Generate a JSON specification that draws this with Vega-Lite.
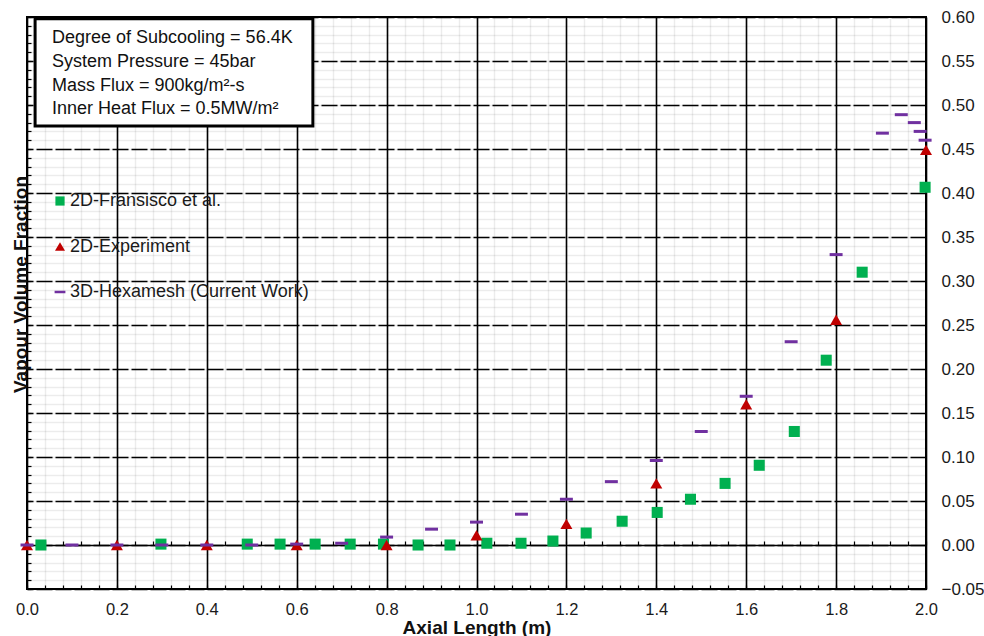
{
  "$schema": "https://vega.github.io/schema/vega-lite/v6.json",
  "width": 899,
  "height": 572,
  "autosize": {"type": "none"},
  "padding": {"left": 27, "top": 17, "right": 58, "bottom": 47},
  "background": "white",
  "config": {
    "view": {"stroke": "#000000", "strokeWidth": 2},
    "font": "Liberation Sans",
    "axis": {"labelFont": "Liberation Sans", "titleFont": "Liberation Sans", "labelColor": "#1a1a1a", "titleColor": "#111111", "labelFlush": false, "labelOverlap": false}
  },
  "resolve": {"axis": {"x": "independent", "y": "independent"}},
  "layer": [
    {
      "description": "Parameter box; also carries the light minor grid and the inward minor ticks",
      "data": {"values": [{"bx0": 0.018, "bx1": 0.636, "by0": 0.598, "by1": 0.476}]},
      "mark": {"type": "rect", "fill": "white", "stroke": "#000000", "strokeWidth": 3},
      "encoding": {
        "x": {
          "field": "bx0", "type": "quantitative",
          "scale": {"domain": [0, 2], "nice": false, "zero": false},
          "axis": {
            "orient": "bottom",
            "values": [0,0.04,0.08,0.12,0.16,0.2,0.24,0.28,0.32,0.36,0.4,0.44,0.48,0.52,0.56,0.6,0.64,0.68,0.72,0.76,0.8,0.84,0.88,0.92,0.96,1,1.04,1.08,1.12,1.16,1.2,1.24,1.28,1.32,1.36,1.4,1.44,1.48,1.52,1.56,1.6,1.64,1.68,1.72,1.76,1.8,1.84,1.88,1.92,1.96,2],
            "grid": true, "gridColor": "#000000", "gridOpacity": 0.075, "gridWidth": 1.5, "gridDash": [],
            "labels": false, "domain": false,
            "ticks": true, "tickSize": -4, "tickColor": "#000000", "tickWidth": 1.2,
            "title": null
          }
        },
        "x2": {"field": "bx1"},
        "y": {
          "field": "by0", "type": "quantitative",
          "scale": {"domain": [-0.05, 0.6], "nice": false, "zero": false},
          "axis": {
            "orient": "left",
            "values": [-0.05,-0.04,-0.03,-0.02,-0.01,0,0.01,0.02,0.03,0.04,0.05,0.06,0.07,0.08,0.09,0.1,0.11,0.12,0.13,0.14,0.15,0.16,0.17,0.18,0.19,0.2,0.21,0.22,0.23,0.24,0.25,0.26,0.27,0.28,0.29,0.3,0.31,0.32,0.33,0.34,0.35,0.36,0.37,0.38,0.39,0.4,0.41,0.42,0.43,0.44,0.45,0.46,0.47,0.48,0.49,0.5,0.51,0.52,0.53,0.54,0.55,0.56,0.57,0.58,0.59,0.6],
            "grid": true, "gridColor": "#000000", "gridOpacity": 0.075, "gridWidth": 1.5, "gridDash": [],
            "labels": false, "domain": false,
            "ticks": true, "tickSize": -4, "tickColor": "#000000", "tickWidth": 1.2,
            "title": "Vapour Volume Fraction",
            "titleFontSize": 19, "titleFontWeight": "bold",
            "titleAngle": -90, "titleX": -1, "titleY": 267,
            "titleAlign": "center", "titleBaseline": "alphabetic"
          }
        },
        "y2": {"field": "by1"}
      }
    },
    {
      "description": "Operating conditions text; also carries the zero line and the major dashed grid with right-hand labels",
      "data": {"values": [
        {"tx": 0.0556, "ty": 0.5701, "line": "Degree of Subcooling = 56.4K"},
        {"tx": 0.0556, "ty": 0.5435, "line": "System Pressure = 45bar"},
        {"tx": 0.0556, "ty": 0.5163, "line": "Mass Flux = 900kg/m²-s"},
        {"tx": 0.0556, "ty": 0.4894, "line": "Inner Heat Flux = 0.5MW/m²"}
      ]},
      "mark": {"type": "text", "align": "left", "baseline": "alphabetic", "fontSize": 18, "font": "Liberation Sans", "color": "#111111"},
      "encoding": {
        "x": {
          "field": "tx", "type": "quantitative",
          "scale": {"domain": [0, 2], "nice": false, "zero": false},
          "axis": {
            "orient": "bottom", "offset": -44,
            "values": [0,0.04,0.08,0.12,0.16,0.2,0.24,0.28,0.32,0.36,0.4,0.44,0.48,0.52,0.56,0.6,0.64,0.68,0.72,0.76,0.8,0.84,0.88,0.92,0.96,1,1.04,1.08,1.12,1.16,1.2,1.24,1.28,1.32,1.36,1.4,1.44,1.48,1.52,1.56,1.6,1.64,1.68,1.72,1.76,1.8,1.84,1.88,1.92,1.96,2],
            "grid": false, "labels": false,
            "domain": true, "domainColor": "#000000", "domainWidth": 1.6, "domainDash": [],
            "ticks": true, "tickSize": -4, "tickColor": "#000000", "tickWidth": 1.2,
            "title": null
          }
        },
        "y": {
          "field": "ty", "type": "quantitative",
          "scale": {"domain": [-0.05, 0.6], "nice": false, "zero": false},
          "axis": {
            "orient": "right",
            "values": [-0.05,0,0.05,0.1,0.15,0.2,0.25,0.3,0.35,0.4,0.45,0.5,0.55,0.6],
            "format": ".2f",
            "grid": true, "gridColor": "#000000", "gridWidth": 1.6, "gridDash": [16, 3],
            "domain": false, "ticks": false,
            "labelFontSize": 17, "labelPadding": 15, "labelBaseline": "middle",
            "title": null
          }
        },
        "text": {"field": "line"}
      }
    },
    {
      "description": "Vapour volume fraction along the channel for the three data sets",
      "data": {"values": [
        {"series": "2D-Fransisco et al.", "x": 0.031, "y": 0.000},
        {"series": "2D-Fransisco et al.", "x": 0.298, "y": 0.001},
        {"series": "2D-Fransisco et al.", "x": 0.490, "y": 0.001},
        {"series": "2D-Fransisco et al.", "x": 0.563, "y": 0.001},
        {"series": "2D-Fransisco et al.", "x": 0.641, "y": 0.001},
        {"series": "2D-Fransisco et al.", "x": 0.719, "y": 0.001},
        {"series": "2D-Fransisco et al.", "x": 0.793, "y": 0.001},
        {"series": "2D-Fransisco et al.", "x": 0.870, "y": 0.000},
        {"series": "2D-Fransisco et al.", "x": 0.941, "y": 0.000},
        {"series": "2D-Fransisco et al.", "x": 1.023, "y": 0.002},
        {"series": "2D-Fransisco et al.", "x": 1.099, "y": 0.002},
        {"series": "2D-Fransisco et al.", "x": 1.170, "y": 0.0045},
        {"series": "2D-Fransisco et al.", "x": 1.244, "y": 0.0136},
        {"series": "2D-Fransisco et al.", "x": 1.324, "y": 0.027},
        {"series": "2D-Fransisco et al.", "x": 1.402, "y": 0.037},
        {"series": "2D-Fransisco et al.", "x": 1.476, "y": 0.052},
        {"series": "2D-Fransisco et al.", "x": 1.553, "y": 0.070},
        {"series": "2D-Fransisco et al.", "x": 1.629, "y": 0.0906},
        {"series": "2D-Fransisco et al.", "x": 1.707, "y": 0.129},
        {"series": "2D-Fransisco et al.", "x": 1.778, "y": 0.210},
        {"series": "2D-Fransisco et al.", "x": 1.858, "y": 0.310},
        {"series": "2D-Fransisco et al.", "x": 1.998, "y": 0.4065},
        {"series": "2D-Experiment", "x": 0.0, "y": 0.0},
        {"series": "2D-Experiment", "x": 0.2, "y": 0.0},
        {"series": "2D-Experiment", "x": 0.4, "y": 0.0},
        {"series": "2D-Experiment", "x": 0.6, "y": 0.0},
        {"series": "2D-Experiment", "x": 0.8, "y": 0.0},
        {"series": "2D-Experiment", "x": 1.0, "y": 0.011},
        {"series": "2D-Experiment", "x": 1.2, "y": 0.024},
        {"series": "2D-Experiment", "x": 1.4, "y": 0.070},
        {"series": "2D-Experiment", "x": 1.6, "y": 0.160},
        {"series": "2D-Experiment", "x": 1.8, "y": 0.256},
        {"series": "2D-Experiment", "x": 2.0, "y": 0.449},
        {"series": "3D-Hexamesh (Current Work)", "x": 0.0, "y": 0.0},
        {"series": "3D-Hexamesh (Current Work)", "x": 0.1, "y": 0.0},
        {"series": "3D-Hexamesh (Current Work)", "x": 0.2, "y": 0.0},
        {"series": "3D-Hexamesh (Current Work)", "x": 0.3, "y": 0.0},
        {"series": "3D-Hexamesh (Current Work)", "x": 0.4, "y": 0.0},
        {"series": "3D-Hexamesh (Current Work)", "x": 0.5, "y": 0.0},
        {"series": "3D-Hexamesh (Current Work)", "x": 0.6, "y": 0.001},
        {"series": "3D-Hexamesh (Current Work)", "x": 0.7, "y": 0.002},
        {"series": "3D-Hexamesh (Current Work)", "x": 0.8, "y": 0.009},
        {"series": "3D-Hexamesh (Current Work)", "x": 0.9, "y": 0.018},
        {"series": "3D-Hexamesh (Current Work)", "x": 1.0, "y": 0.026},
        {"series": "3D-Hexamesh (Current Work)", "x": 1.1, "y": 0.035},
        {"series": "3D-Hexamesh (Current Work)", "x": 1.2, "y": 0.052},
        {"series": "3D-Hexamesh (Current Work)", "x": 1.3, "y": 0.072},
        {"series": "3D-Hexamesh (Current Work)", "x": 1.4, "y": 0.096},
        {"series": "3D-Hexamesh (Current Work)", "x": 1.5, "y": 0.129},
        {"series": "3D-Hexamesh (Current Work)", "x": 1.6, "y": 0.169},
        {"series": "3D-Hexamesh (Current Work)", "x": 1.7, "y": 0.231},
        {"series": "3D-Hexamesh (Current Work)", "x": 1.8, "y": 0.330},
        {"series": "3D-Hexamesh (Current Work)", "x": 1.903, "y": 0.468},
        {"series": "3D-Hexamesh (Current Work)", "x": 1.945, "y": 0.489},
        {"series": "3D-Hexamesh (Current Work)", "x": 1.974, "y": 0.480},
        {"series": "3D-Hexamesh (Current Work)", "x": 1.987, "y": 0.470},
        {"series": "3D-Hexamesh (Current Work)", "x": 1.998, "y": 0.460}
      ]},
      "mark": {"type": "point", "filled": true, "opacity": 1, "size": 144, "strokeWidth": 0},
      "encoding": {
        "x": {
          "field": "x", "type": "quantitative",
          "scale": {"domain": [0, 2], "nice": false, "zero": false},
          "axis": {
            "orient": "bottom",
            "values": [0,0.2,0.4,0.6,0.8,1,1.2,1.4,1.6,1.8,2],
            "format": ".1f",
            "grid": true, "gridColor": "#000000", "gridWidth": 1.6, "gridDash": [],
            "domain": false, "ticks": false,
            "labelFontSize": 16.5, "labelPadding": 12,
            "title": "Axial Length (m)",
            "titleFontSize": 19, "titleFontWeight": "bold",
            "titleY": 44, "titleBaseline": "alphabetic"
          }
        },
        "y": {
          "field": "y", "type": "quantitative",
          "scale": {"domain": [-0.05, 0.6], "nice": false, "zero": false},
          "axis": null
        },
        "color": {
          "field": "series", "type": "nominal",
          "scale": {
            "domain": ["2D-Fransisco et al.", "2D-Experiment", "3D-Hexamesh (Current Work)"],
            "range": ["#00b050", "#c00000", "#7030a0"]
          },
          "legend": {
            "orient": "none", "legendX": 24, "legendY": 175,
            "title": null, "padding": 0,
            "labelFont": "Liberation Sans", "labelFontSize": 18, "labelColor": "#1a1a1a",
            "labelLimit": 400,
            "labelOffset": 1, "symbolSize": 100, "rowPadding": 27.5,
            "symbolStrokeWidth": 0, "symbolOpacity": 1
          }
        },
        "shape": {
          "field": "series", "type": "nominal",
          "scale": {
            "domain": ["2D-Fransisco et al.", "2D-Experiment", "3D-Hexamesh (Current Work)"],
            "range": ["M-0.92,-0.92L0.92,-0.92L0.92,0.92L-0.92,0.92Z", "triangle-up", "M-1.08,-0.25L1.08,-0.25L1.08,0.25L-1.08,0.25Z"]
          },
          "legend": {
            "orient": "none", "legendX": 24, "legendY": 175,
            "title": null, "padding": 0,
            "labelFont": "Liberation Sans", "labelFontSize": 18, "labelColor": "#1a1a1a",
            "labelLimit": 400,
            "labelOffset": 1, "symbolSize": 100, "rowPadding": 27.5,
            "symbolStrokeWidth": 0, "symbolOpacity": 1
          }
        }
      }
    }
  ]
}
